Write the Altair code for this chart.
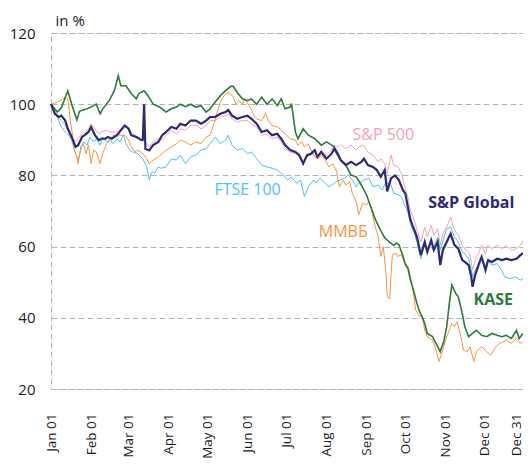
import altair as alt
import pandas as pd

# ---- data (day offsets from 2008-01-01, index values in %) ----
kase_days = [0, 5, 8, 13, 16, 20, 22, 28, 33, 35, 38, 40, 45, 49, 52, 54, 58, 62, 66, 68, 72, 75, 79, 84, 89,
             93, 97, 100, 104, 108, 112, 116, 120, 123, 127, 131, 135, 139, 141, 144, 148, 152, 155, 159, 163,
             167, 171, 175, 178, 181, 185, 186, 189, 191, 195, 199, 204, 209, 213, 217, 219, 222, 224, 228, 232,
             236, 240, 244, 247, 251, 255, 258, 261, 263, 265, 267, 269, 272, 274, 276, 278, 281, 283, 285, 287,
             289, 291, 295, 299, 301, 304, 306, 308, 310, 313, 315, 318, 320, 323, 326, 329, 333, 337, 341, 345,
             349, 352, 356, 360, 362, 365]
kase_vals = [100, 97.8, 99, 103.8, 100, 95.6, 98, 98.7, 99.6, 100, 97.3, 98.7, 101, 103.8, 108, 105.2, 105.2,
             103, 101.5, 103, 103.8, 102.4, 100, 99.2, 97.8,
             98.7, 99.2, 100, 99.3, 100, 99.2, 99.6, 97.8, 98.7, 100.6, 102.4, 103.8, 105, 105, 103.3, 101.5, 101,
             101.5, 100, 102, 100, 101.5, 99.6, 101.5, 98.7, 99.2, 100.2, 92.2, 90.3, 93.1, 91.3, 90.3, 88.5,
             89.4, 88.5, 88, 86.1, 84.3, 82.9, 80.1, 79.6, 77.3, 74.5, 71.5, 67.5, 64.5, 62.5, 61.5, 60.9, 60.3,
             61, 60.6, 57.5, 55, 53.8, 50.6, 46.8, 44, 41.8, 40.3, 38.4, 35.6, 34.7, 31.9, 30.5, 33.7, 37.5, 44,
             49.2, 46.8, 45.9, 41.2, 37.5, 34.7, 35.6, 36.5, 35.1, 34.7, 35.6, 35.1, 34.7, 35.1, 34.2, 36.5,
             34.2, 35.6]

spg_days = [0, 3, 6, 8, 11, 13, 16, 19, 21, 24, 26, 29, 31, 34, 37, 39, 42, 44, 47, 49, 52, 54, 57, 60, 62, 66,
            70, 71, 72, 73, 76, 79, 83, 86, 89, 93, 97, 100, 104, 108, 112, 116, 120, 123, 127, 131, 135, 137,
            140, 144, 148, 152, 155, 159, 163, 167, 171, 175, 178, 181, 185, 189, 192, 195, 198, 201, 204, 206,
            209, 213, 217, 219, 222, 224, 228, 232, 236, 240, 242, 245, 249, 252, 255, 258, 260, 263, 266, 269,
            272, 274, 276, 278, 281, 283, 286, 289, 291, 294, 296, 299, 301, 303, 306, 309, 312, 315, 318, 320,
            323, 325, 326, 328, 331, 333, 336, 338, 341, 345, 349, 352, 356, 360, 363, 365]
spg_vals = [100, 97.3, 96.4, 96.8, 95.4, 93.1, 90.8, 88, 88.5, 90.8, 91.3, 92.2, 93.6, 91.3, 89.9, 90.3, 90.3,
            90.8, 90.3, 90.8, 91.7, 92.7, 94, 93.1, 91.3, 90.8, 89.9, 90, 100, 87.5, 87, 88.5, 89.4, 91.3, 92.2,
            93.6, 93.1, 94.5, 94, 95.4, 95.4, 94.5, 95.4, 96.4, 96.4, 97.3, 97.8, 98.4, 96.8, 95.9, 96.4, 96.8,
            95.9, 94.5, 92.2, 92.7, 91.3, 91.7, 90.3, 88.5, 87.1, 86.6, 85.7, 83.3, 85.7, 86.1, 87.1, 85.2, 86.6,
            84.7, 86.1, 87.5, 85.7, 84.3, 82.9, 83.8, 82.9, 83.8, 84.7, 82.9, 82.4, 81.5, 79.6, 81.5, 75.5, 79.2,
            80, 78.7, 76, 74.9, 71.1, 67.4, 64.6, 62.7, 57.6, 61.3, 58.5, 61.8, 59, 61.3, 54.8, 59, 61.3, 63.6,
            60.4, 59.4, 56.2, 55.7, 54.8, 51.5, 48.7, 52, 55.2, 57.1, 53.4, 56.2, 55.7, 56.6, 56.2, 56.6, 56.2,
            56.6, 57.6, 58.2]

sp500_days = [0, 3, 6, 8, 11, 14, 16, 19, 21, 24, 26, 29, 31, 34, 37, 39, 43, 46, 49, 52, 54, 57, 60, 63, 67,
              71, 74, 76, 79, 83, 86, 89, 93, 97, 100, 104, 108, 112, 116, 120, 123, 127, 131, 135, 137, 140,
              144, 148, 152, 155, 159, 163, 167, 171, 175, 178, 181, 185, 189, 192, 195, 198, 201, 204, 207, 209,
              213, 217, 219, 222, 224, 228, 232, 236, 238, 242, 245, 249, 253, 255, 258, 260, 263, 265, 268, 271,
              273, 276, 278, 281, 283, 286, 289, 291, 294, 296, 299, 301, 303, 306, 309, 312, 315, 318, 320, 323,
              325, 326, 328, 331, 333, 336, 338, 341, 345, 349, 352, 356, 360, 363, 365]
sp500_vals = [100, 98.2, 96.4, 95.4, 94, 92.7, 90.8, 89.4, 90.3, 91.7, 92.2, 93.1, 94.5, 93.1, 91.7, 92.2, 92.7,
              92.2, 92.2, 92.2, 92.7, 94, 93.1, 91.7, 90.8, 89.9, 88.9, 88, 89.4, 90.3, 89.9, 91.3, 92.7, 91.7,
              93.1, 92.7, 94, 94, 93.1, 94, 95.4, 95.4, 96.4, 96.8, 97.3, 95.9, 95, 95.4, 95.4, 94.5, 93.6, 91.3,
              91.7, 90.3, 90.8, 89.4, 87.5, 86.6, 86.1, 85.2, 83.3, 85.2, 85.7, 86.6, 85.2, 86.6, 85.7, 87.1, 88.5,
              88, 88.5, 87.5, 88.5, 87.1, 88, 88.5, 86.6, 85.7, 83.8, 84.7, 83.3, 80.5, 85.7, 82.9, 82.5, 80.5,
              77.7, 73.9, 70.2, 67.4, 64.6, 61.3, 65.5, 62.7, 66, 63.2, 65, 60.4, 63.6, 65.5, 68.3, 64.6, 63.2,
              60.4, 59.4, 58.5, 55.7, 53.4, 56.2, 58.5, 60.4, 58, 60.4, 59.4, 60.4, 59.4, 60.4, 59, 59.4, 60.4,
              61.8]

ftse_days = [0, 3, 6, 8, 11, 14, 16, 19, 21, 23, 25, 28, 30, 33, 35, 38, 40, 43, 46, 48, 51, 53, 56, 58, 61, 63,
             67, 71, 74, 76, 78, 80, 83, 85, 89, 93, 97, 100, 104, 108, 112, 116, 120, 123, 127, 131, 135, 137,
             140, 144, 148, 152, 155, 159, 163, 167, 171, 175, 178, 181, 183, 186, 190, 193, 196, 199, 203, 205,
             208, 212, 215, 219, 223, 227, 230, 233, 236, 238, 242, 246, 249, 253, 256, 259, 263, 265, 269, 271,
             273, 276, 278, 281, 283, 286, 289, 291, 294, 296, 299, 301, 304, 306, 309, 312, 315, 318, 320, 323,
             325, 326, 328, 331, 333, 336, 338, 341, 345, 347, 351, 355, 359, 363, 365]
ftse_vals = [100, 97.8, 95.4, 93.6, 92.2, 91.3, 89.9, 86.1, 84.3, 87.1, 89.4, 88.5, 90.8, 89.4, 90.3, 88.5, 90.8,
             89.4, 89.9, 88.9, 90.3, 89.4, 91.3, 88.9, 87.1, 86.6, 86.1, 84.7, 82.4, 78.7, 81, 80.6, 82.4, 82,
             82.4, 84.7, 84.3, 85.7, 83.3, 85.2, 85.7, 87.1, 87.5, 88.9, 90.8, 88.9, 89.9, 91.3, 88.5, 87.1, 87.5,
             86.1, 86.6, 84.7, 82.9, 82.4, 82, 81.5, 80.6, 79.6, 78.7, 79.6, 77.8, 78.7, 74, 76.8, 78.7, 77.8,
             79.2, 77.8, 76.8, 77.8, 78.7, 79.2, 80.1, 78.7, 76.8, 77.8, 78.7, 79.2, 76.8, 77.3, 75.9, 78.2, 77.3,
             75, 74.5, 73.9, 72.1, 69.7, 66.4, 63.6, 61.3, 56.6, 60.8, 59, 61.8, 59.9, 62.7, 59, 62.7, 65, 65.5,
             62.7, 61.3, 58.5, 58, 56.6, 53.4, 51.5, 53.4, 55.2, 56.6, 54.3, 56.2, 54.8, 55.2, 54.3, 51.5, 51,
             51.5, 50.6, 51]

micex_days = [0, 3, 7, 11, 13, 15, 17, 18, 20, 21, 23, 25, 27, 29, 31, 33, 35, 38, 40, 43, 46, 48, 50, 53, 57,
              60, 62, 65, 67, 71, 74, 76, 79, 83, 86, 89, 93, 97, 100, 104, 108, 112, 116, 120, 123, 126, 129,
              131, 134, 136, 139, 141, 143, 145, 148, 150, 154, 157, 159, 163, 166, 168, 171, 175, 177, 181, 185,
              189, 191, 194, 196, 199, 201, 204, 207, 209, 212, 215, 218, 221, 222, 223, 226, 228, 231, 233, 236,
              238, 241, 244, 246, 248, 250, 253, 255, 257, 259, 260, 262, 263, 264, 267, 268, 271, 273, 276, 278,
              280, 282, 285, 287, 289, 291, 295, 297, 300, 303, 305, 308, 310, 312, 314, 317, 319, 322, 324, 327,
              329, 333, 337, 340, 344, 347, 352, 356, 360, 363, 365]
micex_vals = [100, 100.3, 101, 102, 101.5, 95.4, 90.3, 87.1, 85.2, 83.3, 88, 88.9, 86.1, 88.5, 83.3, 87.1, 86.6,
              83.3, 86.1, 88.9, 90.3, 91.3, 90.8, 91.3, 91.3, 89.9, 88, 86.6, 87.1, 86.1, 84.7, 83.3, 84.3, 85.2,
              86.1, 87.1, 88, 88.9, 89.9, 89.4, 88.5, 89.4, 88.9, 90.8, 91.3, 94.5, 98.2, 100.6, 102.4, 103.3,
              102.9, 102, 100, 101, 100, 101.5, 99.2, 96.8, 95.9, 95.4, 97.5, 95.5, 94, 93.6, 93.1, 91.7, 90.3,
              89.9, 88.5, 89.4, 88, 88.9, 87.1, 85.2, 84.7, 86.1, 84.3, 82.4, 83.3, 81, 78.7, 76.8, 78.7, 77.3,
              78.2, 75, 72.7, 69, 72.2, 71.7, 72.7, 70.3, 66.6, 62.8, 57.2, 60, 52.5, 45.9, 45.4, 52.5, 57.7, 58.1,
              57.2, 57.7, 55.8, 54.4, 51.5, 47.8, 42.2, 40.3, 40.8, 36.5, 34.7, 33.7, 31.9, 27.7, 30.9, 33.7, 36.5,
              38.4, 37.5, 38.9, 34.7, 30.9, 30.5, 31.9, 27.7, 30.5, 31.9, 30.5, 29.5, 31.9, 32.8, 33.7, 32.8, 34.2,
              32.8, 33.3]

series_names = ["FTSE 100", "S&P 500", "ММВБ", "KASE", "S&P Global"]
series_colors = ["#4cc3f0", "#f4a3b4", "#f7943f", "#2e7a3c", "#2c2a78"]
series_widths = [1, 1, 1, 1.6, 2.2]

label_texts = ["FTSE 100", "S&P 500", "ММВБ", "KASE", "S&P Global"]
label_days = [152, 257, 226, 342, 325]
label_values = [75.9, 91.3, 64.1, 45.0, 72.2]
label_bold = [False, False, False, True, True]

y_ticks = [20, 40, 60, 80, 100, 120]

base_date = pd.Timestamp("2008-01-01")


def to_dates(days):
    return [(base_date + pd.Timedelta(days=int(d))).strftime("%Y-%m-%d") for d in days]


series_data = {
    "FTSE 100": (ftse_days, ftse_vals),
    "S&P 500": (sp500_days, sp500_vals),
    "ММВБ": (micex_days, micex_vals),
    "KASE": (kase_days, kase_vals),
    "S&P Global": (spg_days, spg_vals),
}

FONT = "Open Sans"

x_scale = alt.Scale(type="utc", domain=[alt.DateTime(year=2008, month=1, date=1, utc=True),
                                         alt.DateTime(year=2008, month=12, date=31, utc=True)])
y_scale = alt.Scale(domain=[20, 120], nice=False, zero=False)

tick_values = [alt.DateTime(year=2008, month=m, date=1, utc=True) for m in range(1, 13)]
tick_values.append(alt.DateTime(year=2008, month=12, date=31, utc=True))

x_axis = alt.Axis(values=tick_values, labelExpr="utcFormat(datum.value, '%b %d')", labelAngle=270,
                  labelAlign="right", labelBaseline="middle", labelPadding=24, labelFontSize=13.5,
                  labelFont=FONT, labelColor="#1a1a1a", labelOverlap=False, labelFlush=False, grid=False,
                  domain=False, ticks=False, title=None,
                  labelOffset={"condition": {"test": "utcmonth(datum.value) == 11 && utcdate(datum.value) == 31",
                                             "value": -7}, "value": 0})
y_axis = alt.Axis(values=y_ticks, labelFontSize=15, labelFont=FONT, labelColor="#1a1a1a",
                  labelPadding=16, grid=True, gridColor="#b4b4b4", gridDash=[6, 3], gridWidth=1,
                  domain=False, ticks=False, title="in %", titleAngle=0, titleAlign="left",
                  titleBaseline="alphabetic", titleX=4, titleY=-8, titleFont=FONT, titleFontSize=15,
                  titleFontWeight="normal", titleColor="#1a1a1a")

X = alt.X("date:T", scale=x_scale, axis=x_axis)
Y = alt.Y("value:Q", scale=y_scale, axis=y_axis)

layers = []
for i, name in enumerate(series_names):
    d, v = series_data[name]
    df = pd.DataFrame({"date": to_dates(d), "value": v})
    layers.append(
        alt.Chart(df).mark_line(color=series_colors[i], strokeWidth=series_widths[i], interpolate="linear")
        .encode(x=X, y=Y)
    )

lab_df = pd.DataFrame({
    "date": to_dates(label_days),
    "value": label_values,
    "text": label_texts,
    "color": [series_colors[series_names.index(t)] for t in label_texts],
    "bold": label_bold,
})

for bold in (False, True):
    sub = lab_df[lab_df["bold"] == bold]
    layers.append(
        alt.Chart(sub).mark_text(font=FONT, fontSize=16, fontWeight="bold" if bold else "normal",
                                 align="center", baseline="middle")
        .encode(x=X, y=Y, text="text:N", color=alt.Color("color:N", scale=None))
    )

chart = alt.layer(*layers).properties(
    width=472, height=356,
    autosize=alt.AutoSizeParams(type="none"),
    padding={"left": 43, "top": 25, "right": 0, "bottom": 69},
).configure_view(stroke="#b4b4b4", strokeDash=[6, 3], strokeWidth=1)

chart.save("out.html", embed_options={"renderer": "svg", "actions": False})
